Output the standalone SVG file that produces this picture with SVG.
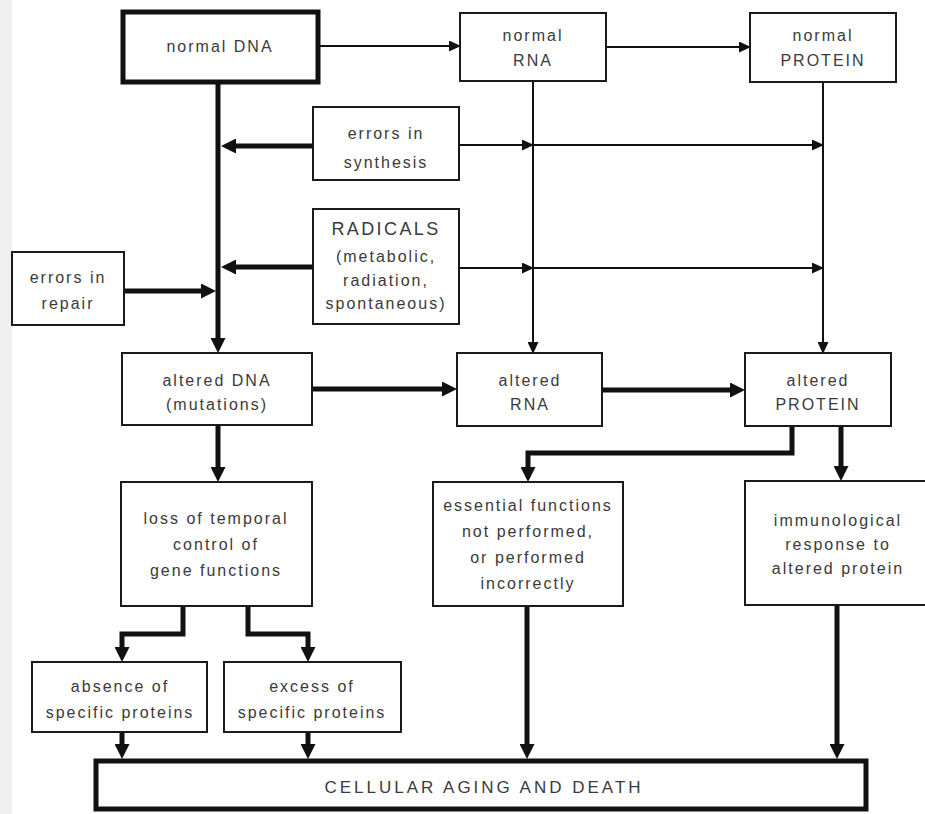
<svg xmlns="http://www.w3.org/2000/svg" width="925" height="814" viewBox="0 0 925 814">
<defs>
<marker id="thin" markerUnits="userSpaceOnUse" markerWidth="12" markerHeight="11" refX="0" refY="5.5" orient="auto"><path d="M0,0 L12,5.5 L0,11 z" fill="#111"/></marker>
<marker id="thick" markerUnits="userSpaceOnUse" markerWidth="15" markerHeight="15" refX="0" refY="7.5" orient="auto"><path d="M0,0 L15,7.5 L0,15 z" fill="#111"/></marker>
</defs>
<style>
.box{fill:#fff;stroke:#1a1a1a;stroke-width:2}
.heavy{fill:#fff;stroke:#111;stroke-width:5}
text{font-family:"Liberation Sans",Arial,sans-serif;font-size:16px;letter-spacing:2px;fill:#3a3a3a;text-anchor:middle}
.big{font-size:18px;letter-spacing:2.4px}
.title{font-size:17px;letter-spacing:3px}
.t{fill:none;stroke:#111;stroke-width:2;marker-end:url(#thin)}
.k{fill:none;stroke:#111;stroke-width:5;marker-end:url(#thick)}
</style>
<rect x="0" y="0" width="925" height="814" fill="#fff"/>
<rect x="0" y="0" width="12" height="814" fill="#efefef"/>
<g id="connectors">
<path class="t" d="M318,46 H449"/>
<path class="t" d="M606,47 H739"/>
<path class="k" d="M218,82 V338"/>
<path class="t" d="M533,81 V342"/>
<path class="t" d="M823,82 V342"/>
<path class="k" d="M313,146 H236"/>
<path class="t" d="M459,145 H522"/>
<path class="t" d="M533,145 H812"/>
<path class="k" d="M313,267 H236"/>
<path class="t" d="M459,268 H522"/>
<path class="t" d="M533,268 H812"/>
<path class="k" d="M124,291 H201"/>
<path class="k" d="M312,389 H442"/>
<path class="k" d="M602,390 H730"/>
<path class="k" d="M792,426 V453 H528 V467"/>
<path class="k" d="M841,426 V466"/>
<path class="k" d="M218,425 V467"/>
<path class="k" d="M183,606 V634 H122 V647"/>
<path class="k" d="M248,606 V634 H308 V647"/>
<path class="k" d="M122,732 V744"/>
<path class="k" d="M308,732 V744"/>
<path class="k" d="M527,606 V744"/>
<path class="k" d="M837,605 V744"/>
</g>
<g id="normal-dna"><rect class="heavy" x="123" y="12" width="195" height="70"/><text x="220" y="52">normal DNA</text></g>
<g id="normal-rna"><rect class="box" x="460" y="13" width="146" height="68"/><text x="533" y="41">normal</text><text x="533" y="66">RNA</text></g>
<g id="normal-protein"><rect class="box" x="750" y="13" width="146" height="69"/><text x="823" y="41">normal</text><text x="823" y="66">PROTEIN</text></g>
<g id="errors-synthesis"><rect class="box" x="313" y="107" width="146" height="73"/><text x="386" y="139">errors in</text><text x="386" y="168">synthesis</text></g>
<g id="radicals"><rect class="box" x="313" y="209" width="146" height="115"/><text class="big" x="386" y="235">RADICALS</text><text x="386" y="262">(metabolic,</text><text x="386" y="286">radiation,</text><text x="386" y="309">spontaneous)</text></g>
<g id="errors-repair"><rect class="box" x="12" y="252" width="112" height="73"/><text x="68" y="283">errors in</text><text x="68" y="309">repair</text></g>
<g id="altered-dna"><rect class="box" x="122" y="353" width="190" height="72"/><text x="217" y="386">altered DNA</text><text x="217" y="410">(mutations)</text></g>
<g id="altered-rna"><rect class="box" x="457" y="353" width="145" height="73"/><text x="530" y="386">altered</text><text x="530" y="410">RNA</text></g>
<g id="altered-protein"><rect class="box" x="745" y="353" width="146" height="73"/><text x="818" y="386">altered</text><text x="818" y="410">PROTEIN</text></g>
<g id="loss-control"><rect class="box" x="121" y="482" width="191" height="124"/><text x="216" y="524">loss of temporal</text><text x="216" y="550">control of</text><text x="216" y="576">gene functions</text></g>
<g id="essential"><rect class="box" x="433" y="482" width="190" height="124"/><text x="528" y="511">essential functions</text><text x="528" y="537">not performed,</text><text x="528" y="563">or performed</text><text x="528" y="589">incorrectly</text></g>
<g id="immunological"><rect class="box" x="745" y="481" width="190" height="124"/><text x="838" y="526">immunological</text><text x="838" y="550">response to</text><text x="838" y="574">altered protein</text></g>
<g id="absence"><rect class="box" x="32" y="662" width="175" height="70"/><text x="120" y="692">absence of</text><text x="120" y="718">specific proteins</text></g>
<g id="excess"><rect class="box" x="224" y="662" width="177" height="70"/><text x="312" y="692">excess of</text><text x="312" y="718">specific proteins</text></g>
<g id="cellular-aging"><rect class="heavy" x="96" y="761" width="770" height="48"/><text class="title" x="484" y="793">CELLULAR AGING AND DEATH</text></g>
</svg>
